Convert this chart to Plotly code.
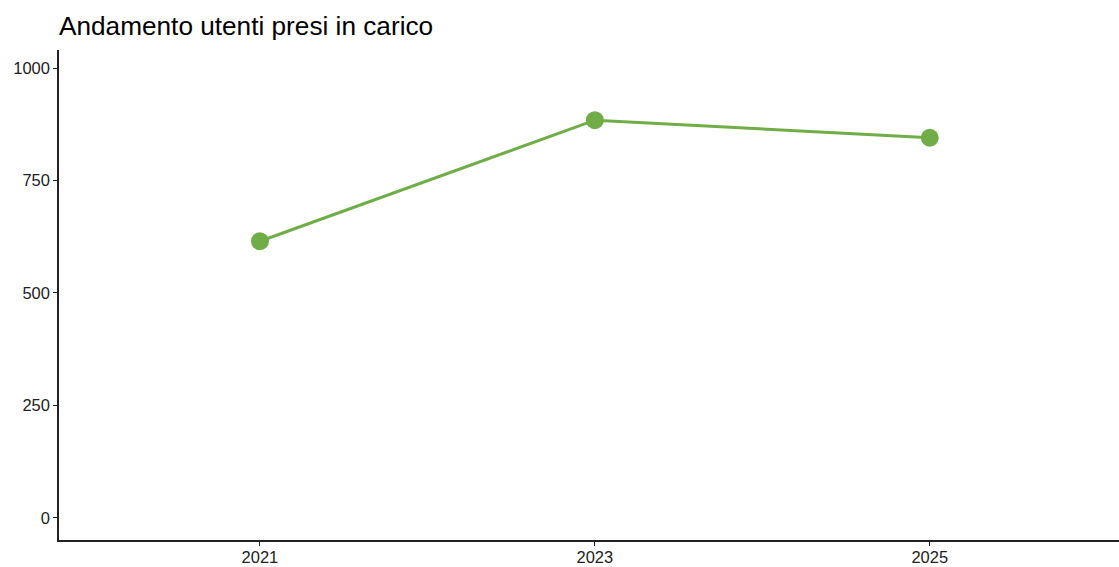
import plotly.graph_objects as go

years = [2021, 2023, 2025]
utenti = [615, 884, 845]
y_ticks = [0, 250, 500, 750, 1000]
x_ticks = [2021, 2023, 2025]

fig = go.Figure()
fig.add_trace(go.Scatter(
    x=years, y=utenti, mode="lines+markers",
    line=dict(color="#70AD47", width=3),
    marker=dict(color="#70AD47", size=18),
    showlegend=False,
))

axis_common = dict(
    showline=True, linecolor="#222222", linewidth=1.5,
    ticks="outside", ticklen=4, tickcolor="#222222", tickwidth=1.2,
    showgrid=False, zeroline=False, automargin=False,
    tickfont=dict(family="Liberation Sans, Arial, sans-serif", size=16.5, color="#222222"),
)

fig.update_layout(
    width=1119, height=567,
    margin=dict(l=59, r=0, t=50, b=27),
    paper_bgcolor="white", plot_bgcolor="white",
    title=dict(
        text="Andamento utenti presi in carico",
        x=59 / 1119, xanchor="left", y=1 - 26 / 567, yanchor="middle",
        font=dict(family="Liberation Sans, Arial, sans-serif", size=26.2, color="black"),
    ),
    xaxis=dict(range=[2019.8, 2026.13], tickvals=x_ticks, ticklabelstandoff=-3,
               ticktext=[str(t) for t in x_ticks], **axis_common),
    yaxis=dict(range=[-49, 1040], tickvals=y_ticks,
               ticktext=[str(t) for t in y_ticks], **axis_common),
)

fig.write_html("out.html", config={"displayModeBar": False},
               post_script="document.body.style.margin='0';document.body.style.overflow='hidden';")
